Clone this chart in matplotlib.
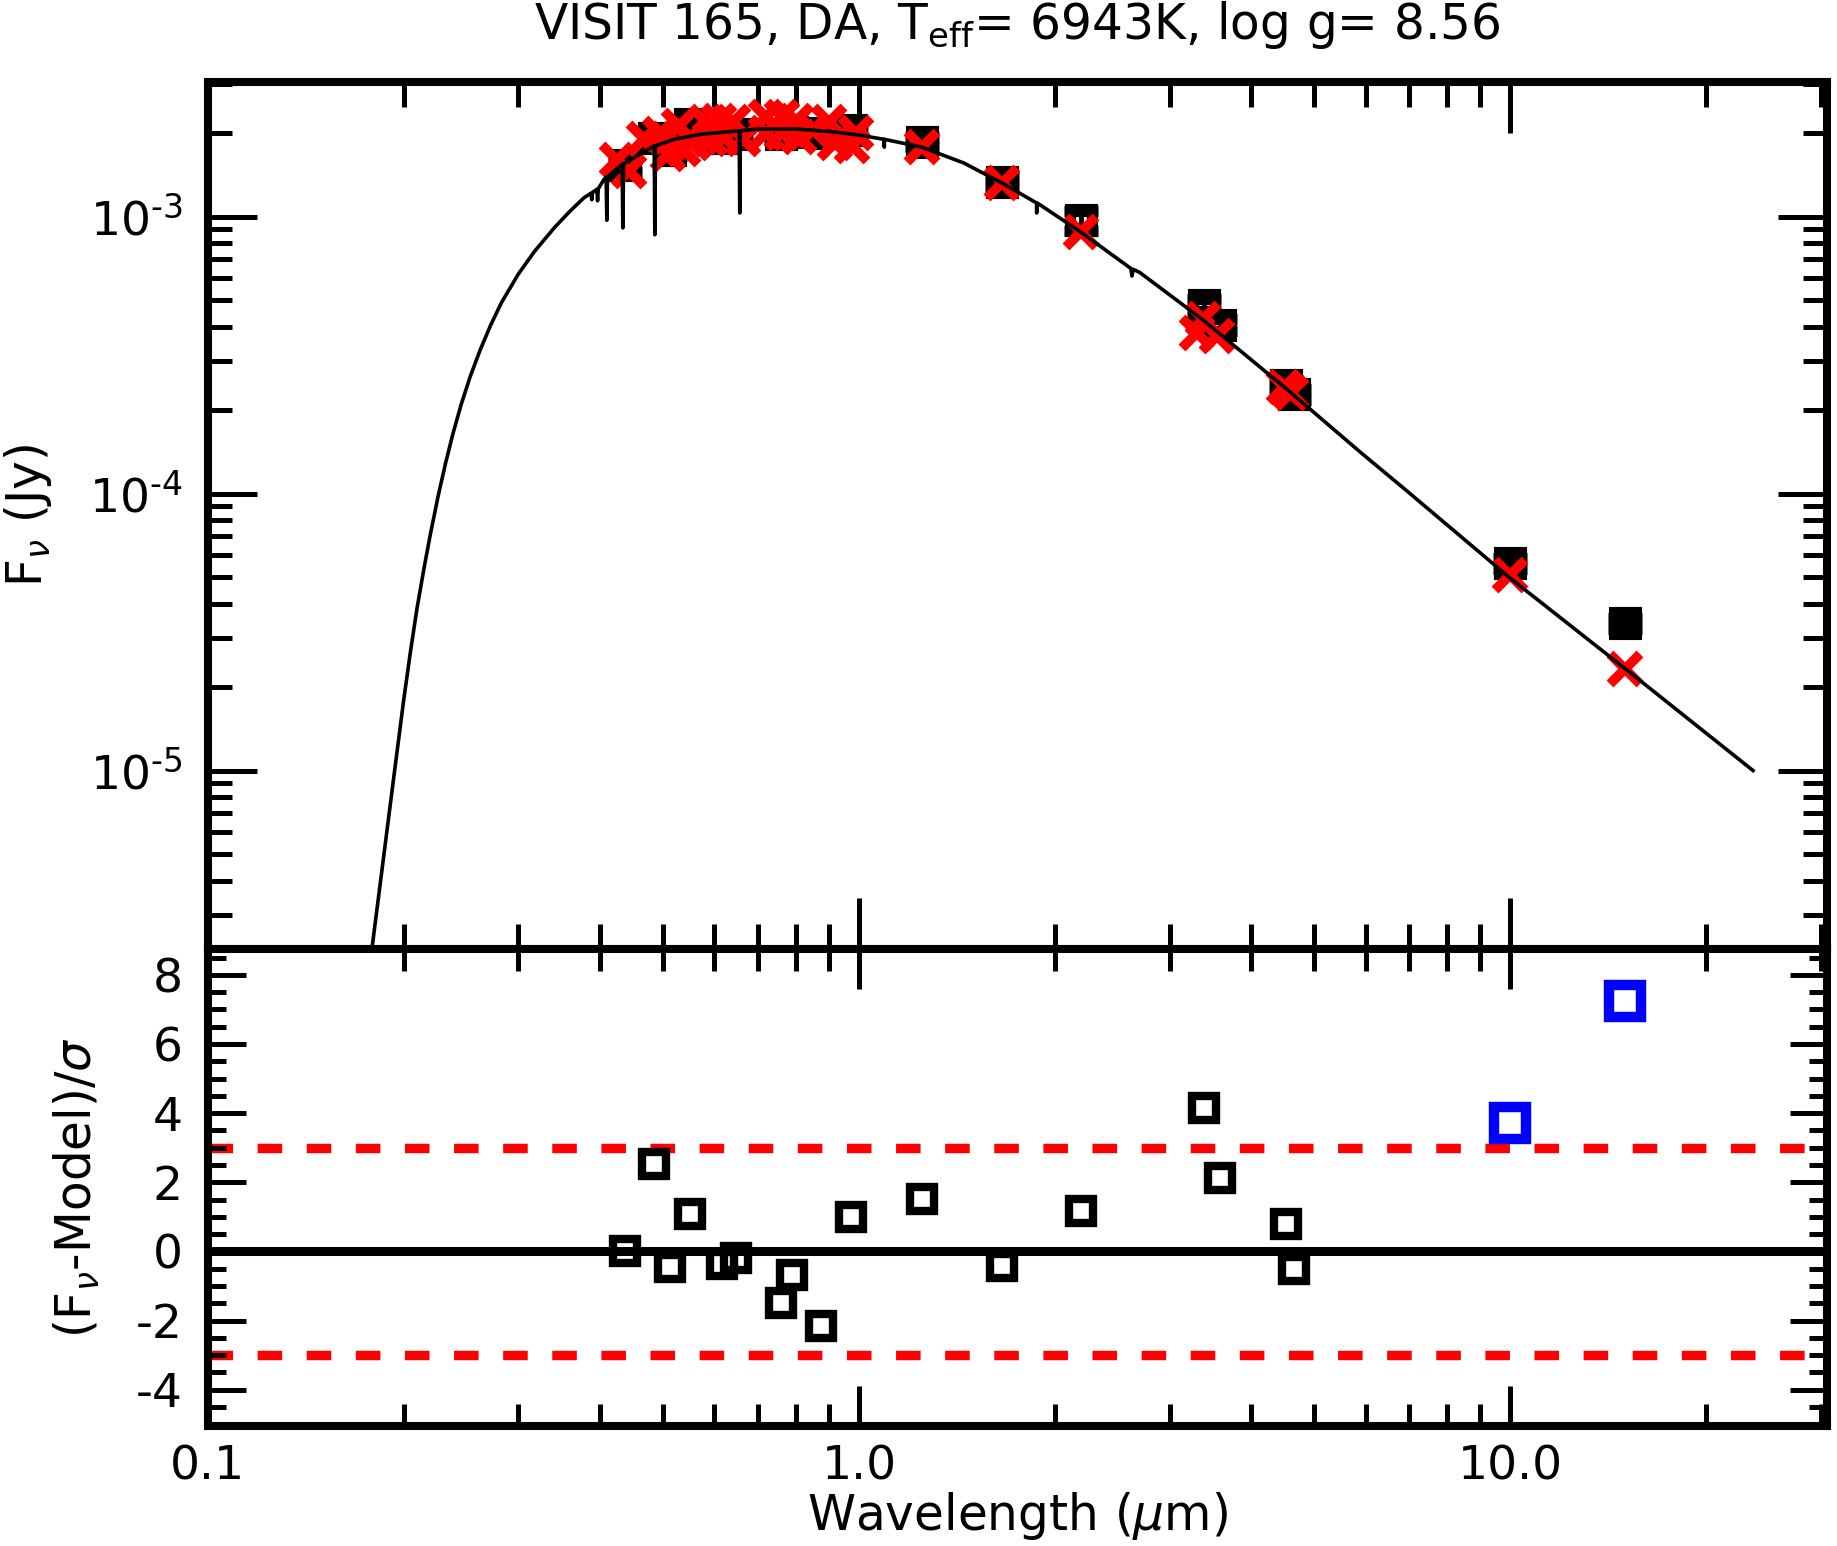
import matplotlib
matplotlib.use("Agg")
import matplotlib.pyplot as plt
from matplotlib.ticker import FixedLocator, FixedFormatter, NullFormatter

plt.rcParams["font.family"] = ["DejaVu Sans"]
plt.rcParams["mathtext.fontset"] = "dejavusans"
plt.rcParams["axes.unicode_minus"] = False

# model spectrum, with the narrow hydrogen lines
model_wave = [0.1770, 0.1806, 0.1840, 0.1875, 0.1915, 0.1954, 0.2000, 0.2048, 0.2096,
              0.2150, 0.2200, 0.2260, 0.2320, 0.2380, 0.2450, 0.2530, 0.2620, 0.2720,
              0.2825, 0.3000, 0.3176, 0.3405, 0.3600, 0.3785, 0.3880, 0.3889, 0.3898,
              0.3960, 0.3970, 0.3980, 0.4060,
              0.4092, 0.4102, 0.4112, 0.4330, 0.4341, 0.4352,
              0.4850, 0.4861, 0.4872, 0.5200, 0.5700,
              0.6550, 0.6563, 0.6576, 0.7000, 0.8000, 0.9000, 1.0000,
              1.0930, 1.0940, 1.0950, 1.2500, 1.4500, 1.6600,
              1.8740, 1.8750, 1.8760, 1.9000, 2.1900, 2.6150, 2.6260, 2.6370,
              2.7000, 3.3700, 4.5500, 5.9100, 6.8800,
              10.000, 15.200, 23.600]
model_flux = [1.88e-6, 2.74e-6, 3.86e-6, 5.47e-6, 8.09e-6, 1.17e-5, 1.79e-5, 2.67e-5, 3.83e-5,
              5.40e-5, 7.20e-5, 9.82e-5, 1.29e-4, 1.64e-4, 2.09e-4, 2.64e-4, 3.29e-4, 4.05e-4,
              4.88e-4, 6.20e-4, 7.48e-4, 9.10e-4, 1.045e-3, 1.17e-3, 1.215e-3, 1.15e-3, 1.22e-3,
              1.255e-3, 1.14e-3, 1.26e-3, 1.36e-3,
              1.385e-3, 9.7e-4, 1.39e-3, 1.545e-3, 9.1e-4, 1.55e-3,
              1.80e-3, 8.6e-4, 1.80e-3, 1.90e-3, 1.98e-3,
              2.04e-3, 1.03e-3, 2.04e-3, 2.07e-3, 2.07e-3, 2.03e-3, 1.97e-3,
              1.90e-3, 1.78e-3, 1.90e-3, 1.78e-3, 1.56e-3, 1.32e-3,
              1.12e-3, 1.03e-3, 1.12e-3, 1.10e-3, 8.8e-4, 6.5e-4, 6.1e-4, 6.45e-4,
              6.28e-4, 4.25e-4, 2.37e-4, 1.40e-4, 1.04e-4,
              4.95e-5, 2.28e-5, 1.0e-5]

# synthetic model photometry (red crosses)
synth_wave = [0.425, 0.443, 0.467, 0.495, 0.510, 0.530, 0.537, 0.556, 0.583,
              0.590, 0.610, 0.620, 0.640, 0.663, 0.720, 0.720, 0.763, 0.763,
              0.800, 0.810, 0.850, 0.900, 0.920, 0.976, 0.990,
              1.25, 1.66, 2.19, 3.30, 3.37, 3.55, 4.49, 4.60, 10.0, 15.0]
synth_flux = [1.60e-3, 1.46e-3, 1.90e-3, 1.98e-3, 1.68e-3, 2.12e-3, 1.76e-3, 1.85e-3, 2.20e-3,
              1.90e-3, 2.22e-3, 1.94e-3, 2.20e-3, 1.90e-3, 2.28e-3, 2.00e-3, 2.28e-3, 2.00e-3,
              2.22e-3, 1.94e-3, 2.05e-3, 2.20e-3, 1.85e-3, 1.80e-3, 2.00e-3,
              1.78e-3, 1.32e-3, 8.8e-4, 3.80e-4, 4.25e-4, 3.72e-4, 2.42e-4, 2.30e-4, 5.1e-5, 2.33e-5]

# observed photometry
obs_wave = [0.437, 0.484, 0.513, 0.551, 0.616, 0.647, 0.758, 0.790, 0.876, 0.971,
            1.25, 1.66, 2.19, 3.39, 3.58, 4.53, 4.65, 10.0, 15.0]
obs_flux = [1.53e-3, 1.92e-3, 1.74e-3, 2.15e-3, 1.92e-3, 1.98e-3, 1.98e-3, 2.02e-3, 2.00e-3, 2.06e-3,
            1.86e-3, 1.33e-3, 9.7e-4, 4.8e-4, 4.05e-4, 2.46e-4, 2.28e-4, 5.6e-5, 3.4e-5]
obs_err = [8e-5, 9e-5, 9e-5, 1.0e-4, 9e-5, 9e-5, 9e-5, 9e-5, 9e-5, 1.0e-4,
           8e-5, 6e-5, 8e-5, 2.4e-5, 2.0e-5, 1.2e-5, 1.1e-5, 2.5e-6, 1.5e-6]
resid = [0.0, 2.53, -0.44, 1.08, -0.37, -0.2, -1.49, -0.68, -2.16, 1.01,
         1.52, -0.41, 1.18, 4.16, 2.13, 0.78, -0.5, 3.72, 7.23]
excess = [False] * 17 + [True, True]

fig = plt.figure(figsize=(18.37, 15.46), dpi=100)
ax1 = fig.add_axes([0.113, 0.3862, 0.8818, 0.561])
ax2 = fig.add_axes([0.113, 0.0776, 0.8818, 0.3086])

ax1.errorbar(obs_wave, obs_flux, yerr=obs_err, fmt="s", ms=16.5, mfc="none",
             mec="k", mew=8, ecolor="k", elinewidth=3.5, capsize=12, capthick=5.5, zorder=2)
ax1.plot(synth_wave, synth_flux, "x", color="red", ms=22, mew=7, zorder=3)
ax1.plot(model_wave, model_flux, "k-", lw=2.6, zorder=4)

ax1.set_xscale("log")
ax1.set_yscale("log")
ax1.set_xlim(0.1, 30.7)
ax1.set_ylim(2.27e-6, 3.07e-3)
ax1.set_title(r"VISIT 165, DA, T$_{\rm eff}$= 6943K, log g= 8.56", fontsize=35, pad=31)
ax1.set_ylabel(r"F$_\nu$ (Jy)", fontsize=35)
ax1.yaxis.set_label_coords(-0.095, 0.5)

bw = [w for w, ex in zip(obs_wave, excess) if not ex]
br = [r for r, ex in zip(resid, excess) if not ex]
xw = [w for w, ex in zip(obs_wave, excess) if ex]
xr = [r for r, ex in zip(resid, excess) if ex]
ax2.axhline(0, color="k", lw=6.5, zorder=1)
ax2.axhline(3, color="red", lw=6.8, ls=(0, (2.6, 2.6)), zorder=1)
ax2.axhline(-3, color="red", lw=6.8, ls=(0, (2.6, 2.6)), zorder=1)
ax2.plot(bw, br, "s", ms=17, mfc="none", mec="k", mew=6, zorder=3)
ax2.plot(xw, xr, "s", ms=22.7, mfc="none", mec=(0, 0, 1), mew=7.5, zorder=3)
ax2.set_xscale("log")
ax2.set_xlim(0.1, 30.7)
ax2.set_ylim(-5.05, 8.75)
ax2.set_xlabel(r"Wavelength ($\mu$m)", fontsize=35, labelpad=1)
ax2.set_ylabel(r"(F$_\nu$-Model)/$\sigma$", fontsize=35)
ax2.yaxis.set_label_coords(-0.065, 0.5)

xmaj = [0.1, 1.0, 10.0]
xmin = [0.2, 0.3, 0.4, 0.5, 0.6, 0.7, 0.8, 0.9, 2, 3, 4, 5, 6, 7, 8, 9, 20, 30]
for ax in (ax1, ax2):
    ax.xaxis.set_major_locator(FixedLocator(xmaj))
    ax.xaxis.set_minor_locator(FixedLocator(xmin))
    ax.xaxis.set_minor_formatter(NullFormatter())
    for s in ax.spines.values():
        s.set_linewidth(5.8)
    ax.tick_params(which="both", direction="in", top=True, right=True,
                   width=3.6, labelsize=34, pad=18)

ax1.xaxis.set_major_formatter(NullFormatter())
ax1.tick_params(axis="x", which="major", length=37)
ax1.tick_params(axis="x", which="minor", length=18)
ax1.yaxis.set_major_locator(FixedLocator([1e-5, 1e-4, 1e-3]))
ax1.yaxis.set_major_formatter(FixedFormatter([r"10$^{\text{-5}}$", r"10$^{\text{-4}}$",
                                              r"10$^{\text{-3}}$"]))
ymin_ticks = [m * 10.0 ** e for e in (-6, -5, -4, -3) for m in range(2, 10)]
ax1.yaxis.set_minor_locator(FixedLocator(ymin_ticks))
ax1.yaxis.set_minor_formatter(NullFormatter())
ax1.tick_params(axis="y", which="major", length=35)
ax1.tick_params(axis="y", which="minor", length=17)

ax2.xaxis.set_major_formatter(FixedFormatter(["0.1", "1.0", "10.0"]))
ax2.tick_params(axis="x", which="major", length=29, pad=13)
ax2.tick_params(axis="x", which="minor", length=16)
ax2.yaxis.set_major_locator(FixedLocator([-4, -2, 0, 2, 4, 6, 8]))
ax2.yaxis.set_minor_locator(FixedLocator([v / 2 for v in range(-10, 18) if v % 4 != 0]))
ax2.tick_params(axis="y", which="major", length=27)
ax2.tick_params(axis="y", which="minor", length=13)

fig.savefig("out.png", dpi=100)
